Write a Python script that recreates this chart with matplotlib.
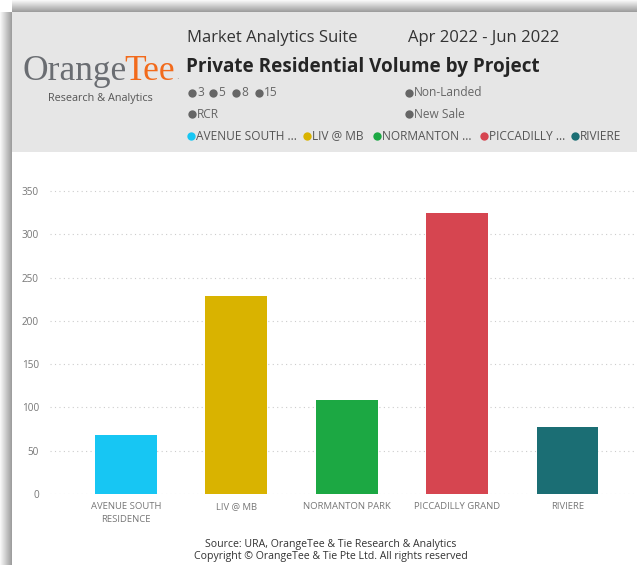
import matplotlib
matplotlib.use('Agg')
import matplotlib.pyplot as plt
import numpy as np
from matplotlib.patches import Rectangle

# data
projects = ['AVENUE SOUTH\nRESIDENCE', 'LIV @ MB', 'NORMANTON PARK', 'PICCADILLY GRAND', 'RIVIERE']
legend_names = ['AVENUE SOUTH ...', 'LIV @ MB', 'NORMANTON ...', 'PICCADILLY ...', 'RIVIERE']
volumes = [68, 229, 108, 325, 77]
colors = ['#17c6f3', '#d9b300', '#1ca843', '#d64550', '#1b6e74']
yticks = [0, 50, 100, 150, 200, 250, 300, 350]

W, H = 637, 565
fig = plt.figure(figsize=(W / 100, H / 100), dpi=100)
fig.patch.set_facecolor('white')

# background layer in pixel coordinates
bg = fig.add_axes([0, 0, 1, 1], zorder=0)
bg.set_xlim(0, W)
bg.set_ylim(H, 0)
bg.axis('off')

# shadows (left and top)
for i in range(12):
    g = 0.97 - 0.032 * i
    bg.add_patch(Rectangle((i, 12), 1, H - 12, color=(g, g, g), lw=0))
    bg.add_patch(Rectangle((12, i), W - 12, 1, color=(g, g, g), lw=0))
# header band
bg.add_patch(Rectangle((12, 12), W - 12, 140, color='#e6e6e6', lw=0))

sans = 'Open Sans'
# logo
bg.text(23, 80, 'Orange', fontsize=25.5, family='Liberation Serif', color='#6a6d72', va='baseline')
bg.text(124, 80, 'Tee', fontsize=25.5, family='Liberation Serif', color='#f26a1b', va='baseline')
bg.text(176, 79, '.', fontsize=6, family='DejaVu Sans', color='#888888', va='baseline')
bg.text(100, 99, 'Research & Analytics', fontsize=7.8, family=sans, color='#555555', ha='center', va='center')

# titles
bg.text(187, 38, 'Market Analytics Suite', fontsize=12, family=sans, color='#333333', va='center')
bg.text(408, 38, 'Apr 2022 - Jun 2022', fontsize=12, family=sans, color='#333333', va='center')
bg.text(186, 67, 'Private Residential Volume by Project', fontsize=13.6, family=sans,
        fontweight='bold', color='#252525', va='center')

# filter rows
dot_gray = '#666666'
lab = 8.6
row_items = [(192, 93, '3'), (213, 93, '5'), (236, 93, '8'), (259, 93, '15'),
             (409, 93, 'Non-Landed'), (192, 114, 'RCR'), (409, 114, 'New Sale')]
for x, y, s in row_items:
    bg.plot(x, y, 'o', ms=6, color=dot_gray, mec='none')
    bg.text(x + 5, y, s, fontsize=lab, family=sans, color='#666666', va='center')

leg_x = [191, 307, 377, 484, 575]
for x, name, c in zip(leg_x, legend_names, colors):
    bg.plot(x, 136, 'o', ms=6, color=c, mec='none')
    bg.text(x + 5, 136, name, fontsize=lab, family=sans, color='#555555', va='center')

# footer
bg.text(331, 544, 'Source: URA, OrangeTee & Tie Research & Analytics', fontsize=7.6, family=sans,
        color='#333333', ha='center', va='center')
bg.text(331, 557, 'Copyright \u00a9 OrangeTee & Tie Pte Ltd. All rights reserved', fontsize=7.6,
        family=sans, color='#333333', ha='center', va='center')

# chart
ymax = 365
left, right = 50 / W, 1.0
bottom = (H - 494) / H
height = ymax * 0.866 / H
ax = fig.add_axes([left, bottom, right - left, height], zorder=1)
ax.patch.set_alpha(0)
x = np.arange(len(projects))
ax.bar(x, volumes, width=0.56, color=colors, zorder=2)
ax.set_xlim(-0.688, -0.688 + 587 / 110.4)
ax.set_ylim(0, ymax)
ax.set_yticks(yticks)
ax.set_yticklabels([str(v) for v in yticks], family=sans, fontsize=7.2, color='#777777')
ax.set_xticks(x)
ax.set_xticklabels(projects, family=sans, fontsize=6.8, color='#777777', linespacing=1.5)
ax.tick_params(axis='y', length=0, pad=8)
ax.tick_params(axis='x', length=0, pad=6)
for s in ax.spines.values():
    s.set_visible(False)
ax.yaxis.grid(True, color='#cccccc', linestyle=(0, (1, 3)), linewidth=0.8)
ax.set_axisbelow(True)

fig.savefig('out.png', dpi=100)
